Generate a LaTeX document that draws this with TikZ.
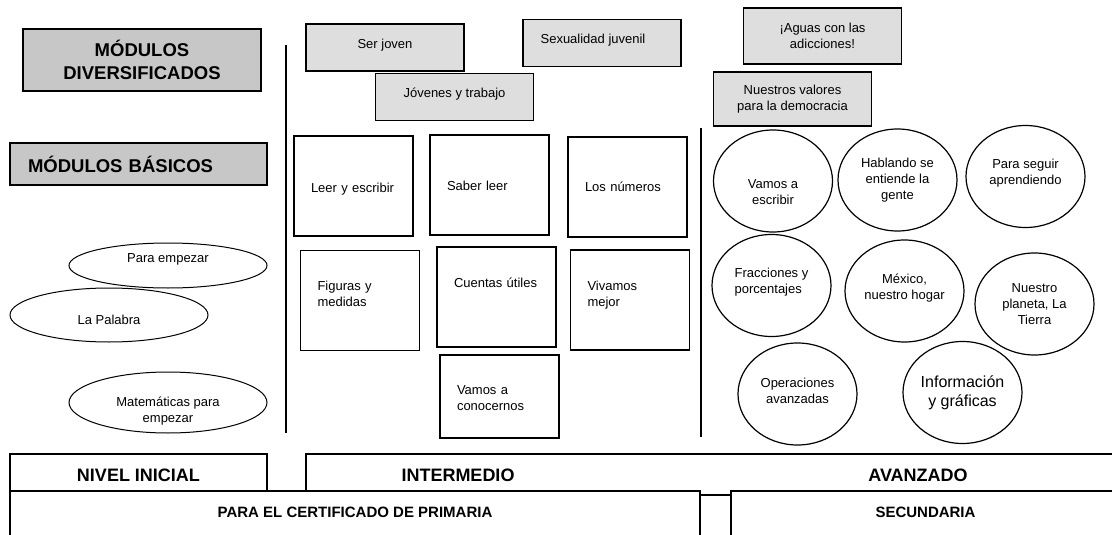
\documentclass[tikz,border=0pt]{standalone}
\usepackage{fontspec}
\setmainfont{Liberation Sans}
\usetikzlibrary{shapes.geometric}
\definecolor{hdrgray}{gray}{0.78}
\definecolor{modgray}{gray}{0.87}
\begin{document}
\begin{tikzpicture}[x=1pt,y=-1pt,
    every node/.style={font=\fontsize{13}{16}\selectfont},
    header/.style={draw,line width=1.2pt,fill=hdrgray,font=\bfseries\fontsize{18.5}{23}\selectfont,align=center,inner sep=0pt},
    divbox/.style 2 args={draw,line width=1.2pt,fill=modgray,minimum width=158pt,minimum height=47pt,inner sep=0pt,
        label={[align=center,#1]center:{#2}}},
    basbox/.style 2 args={draw,line width=1.2pt,minimum width=119pt,minimum height=100pt,inner sep=0pt,
        label={[text width=85pt,align=left,#1]center:{#2}}},
    initoval/.style 2 args={draw,ellipse,line width=1pt,minimum width=198pt,inner sep=0pt,
        label={[align=center,#1]center:{#2}}},
    advoval/.style 2 args={draw,ellipse,line width=1.2pt,minimum width=119pt,minimum height=102pt,inner sep=0pt,
        label={[align=center,#1]center:{#2}}},
    level/.style={font=\bfseries\fontsize{18}{22}\selectfont},
    cert/.style={font=\bfseries\fontsize{15}{18}\selectfont}]
    \useasboundingbox (0,0) rectangle (1112,535);
    \clip (0,0) rectangle (1112,535);

    \node[header,minimum width=238pt,minimum height=62pt] (diversificados) at (142,60) {MÓDULOS\\DIVERSIFICADOS};
    \node[header,minimum width=257pt,minimum height=42pt,text width=221pt,inner xsep=18pt,align=left] (basicos) at (138.5,164) {MÓDULOS BÁSICOS};

    \draw[line width=1.2pt] (286,45) -- (286,433);
    \draw[line width=1.2pt] (701,128) -- (701,437);

    \node[divbox={yshift=2pt}{Ser joven}] (serjoven) at (385,47.5) {};
    \node[divbox={xshift=-9pt,yshift=3pt}{Sexualidad juvenil}] (sexualidad) at (602,43) {};
    \node[divbox={yshift=3pt}{Jóvenes y trabajo}] (trabajo) at (454.5,97) {};
    \node[divbox={}{¡Aguas con las\\adicciones!},minimum height=56pt] (aguas) at (822.5,36) {};
    \node[divbox={}{Nuestros valores\\para la democracia},minimum height=54pt] (valores) at (792.5,99) {};

    \node[basbox={yshift=-3pt}{Leer y escribir}] (leer) at (353.5,186) {};
    \node[basbox={yshift=-1pt}{Saber leer}] (saber) at (489.5,185) {};
    \node[basbox={}{Los números}] (numeros) at (627.5,187) {};
    \node[basbox={yshift=7pt}{Figuras y\\medidas}] (figuras) at (360,300.5) {};
    \node[basbox={yshift=14pt}{Cuentas útiles}] (cuentas) at (496.5,297) {};
    \node[basbox={yshift=5pt}{Vivamos\\mejor}] (vivamos) at (630,300) {};
    \node[basbox={yshift=-2pt}{Vamos a\\conocernos},minimum height=83pt] (conocernos) at (499.5,396.5) {};

    \node[initoval={yshift=6pt}{Para empezar},minimum height=45pt] (empezar) at (168,265.5) {};
    \node[initoval={yshift=-5pt}{La Palabra},minimum height=54pt] (palabra) at (109,315) {};
    \node[initoval={yshift=-9pt}{Matemáticas para\\empezar},minimum height=61pt] (matematicas) at (168,402.5) {};

    \node[advoval={yshift=-11pt}{Vamos a\\escribir}] (escribir) at (773,181) {};
    \node[advoval={}{Hablando se\\entiende la\\gente}] (hablando) at (897.5,180) {};
    \node[advoval={yshift=3pt}{Para seguir\\aprendiendo}] (seguir) at (1025.5,176.5) {};
    \node[advoval={align=left,yshift=3pt}{Fracciones y\\porcentajes}] (fracciones) at (771.5,285.5) {};
    \node[advoval={yshift=3pt}{México,\\nuestro hogar}] (mexico) at (904.5,291) {};
    \node[advoval={}{Nuestro\\planeta, La\\Tierra}] (planeta) at (1034.5,304) {};
    \node[advoval={yshift=3pt}{Operaciones\\avanzadas}] (operaciones) at (797.5,394) {};
    \node[advoval={font=\fontsize{16}{19}\selectfont}{Información\\y gráficas}] (informacion) at (962.5,392.5) {};

    \draw[line width=1.2pt] (10,454) rectangle (267,491);
    \node[level] (inicial) at (138.5,475) {NIVEL INICIAL};
    \draw[line width=1.2pt] (306,454) rectangle (1120,495);
    \node[level] (intermedio) at (458,475) {INTERMEDIO};
    \node[level] (avanzado) at (918,475) {AVANZADO};
    \draw[line width=1.2pt,fill=white] (10,491) rectangle (700,545);
    \node[cert] (primaria) at (355,512) {PARA EL CERTIFICADO DE PRIMARIA};
    \draw[line width=1.2pt,fill=white] (731,491) rectangle (1120,545);
    \node[cert] (secundaria) at (925.5,512) {SECUNDARIA};
\end{tikzpicture}
\end{document}
